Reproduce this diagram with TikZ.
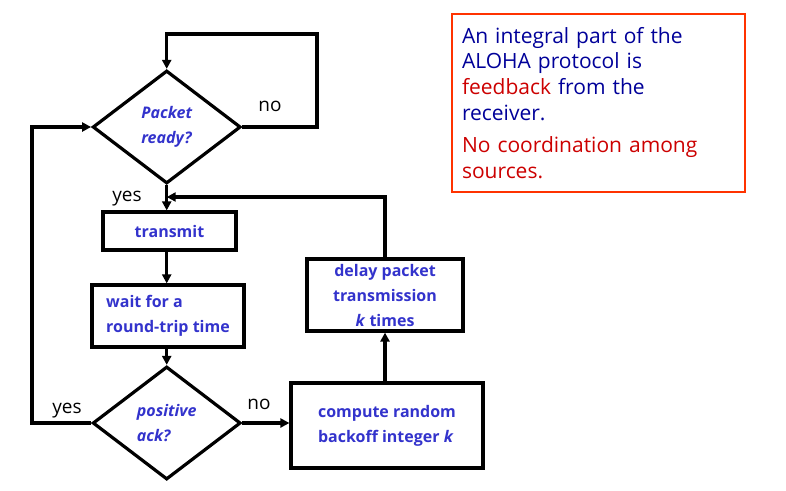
\documentclass[tikz,border=0pt]{standalone}
\usepackage{fontspec}
\setmainfont{Open Sans}
\usetikzlibrary{shapes.geometric,arrows.meta}
\definecolor{flowblue}{HTML}{3333CC}
\definecolor{notenavy}{HTML}{000099}
\definecolor{notered}{HTML}{CC0000}
\definecolor{noteframe}{HTML}{FF3300}

\begin{document}
\begin{tikzpicture}[x=1pt, y=-1pt, line width=3.2pt,
	decision/.style={draw, diamond, aspect=1.31, minimum width=148pt, minimum height=113pt, inner sep=0pt, font=\bfseries\itshape\fontsize{16}{25}\selectfont, text=flowblue, align=left},
	process/.style={draw, rectangle, inner sep=0pt, font=\bfseries\fontsize{16}{25}\selectfont, text=flowblue},
	answer/.style={font=\fontsize{19}{20}\selectfont},
	flow/.style={line width=3.2pt, -{Triangle[length=9pt,width=9pt]}}]
\useasboundingbox (0,0) rectangle (786,490);
% flowchart
\node[decision] (ready) at (166.7,127) {Packet\\ready?};
\node[process, minimum width=133pt, minimum height=38pt] (transmit) at (169.5,231) {transmit};
\node[process, minimum width=152pt, minimum height=62pt, align=left] (wait) at (168,316) {wait for a\\round-trip time};
\node[decision] (ack) at (166.7,423) {positive\\ack?};
\node[process, minimum width=192pt, minimum height=85pt, align=left] (compute) at (387,425.5) {compute random\\backoff integer \textit{k}};
\node[process, minimum width=156pt, minimum height=72pt, align=center] (delay) at (385,295) {delay packet\\transmission\\\textit{k} times};
\coordinate (loopTR) at (317,34);
\coordinate (fb) at (166.7,197);
\coordinate (yesL) at (32,423);
\draw[flow] (ready.east) -| (loopTR) -| (ready.north);
\draw[flow] (ready.south) -- (ready.south |- transmit.north);
\draw[flow] (ready.south |- transmit.south) -- (ready.south |- wait.north);
\draw[flow] (ready.south |- wait.south) -- (ack.north);
\draw[flow] (ack.east) -- (ack.east -| compute.west);
\draw[flow] (delay.south |- compute.north) -- (delay.south);
\draw[flow] (delay.north) |- (fb);
\draw[flow] (ack.west) -- (yesL) |- (ready.west);
% answers
\node[answer] (noReady) at (270,106) {no};
\node[answer] (yesReady) at (127,199) {yes};
\node[answer] (yesAck) at (67,411) {yes};
\node[answer] (noAck) at (259,404) {no};
% note
\node[draw=noteframe, line width=2pt, minimum width=293pt, minimum height=178pt, text width=273pt, inner xsep=10pt, inner ysep=6pt, align=left, text=notenavy, font=\fontsize{21}{25.7}\selectfont] (note) at (598.5,103)
	{An integral part of the\\ALOHA protocol is\\\textcolor{notered}{feedback} from the\\receiver.\\[7pt]\textcolor{notered}{No coordination among}\\\textcolor{notered}{sources.}};
\end{tikzpicture}
\end{document}
